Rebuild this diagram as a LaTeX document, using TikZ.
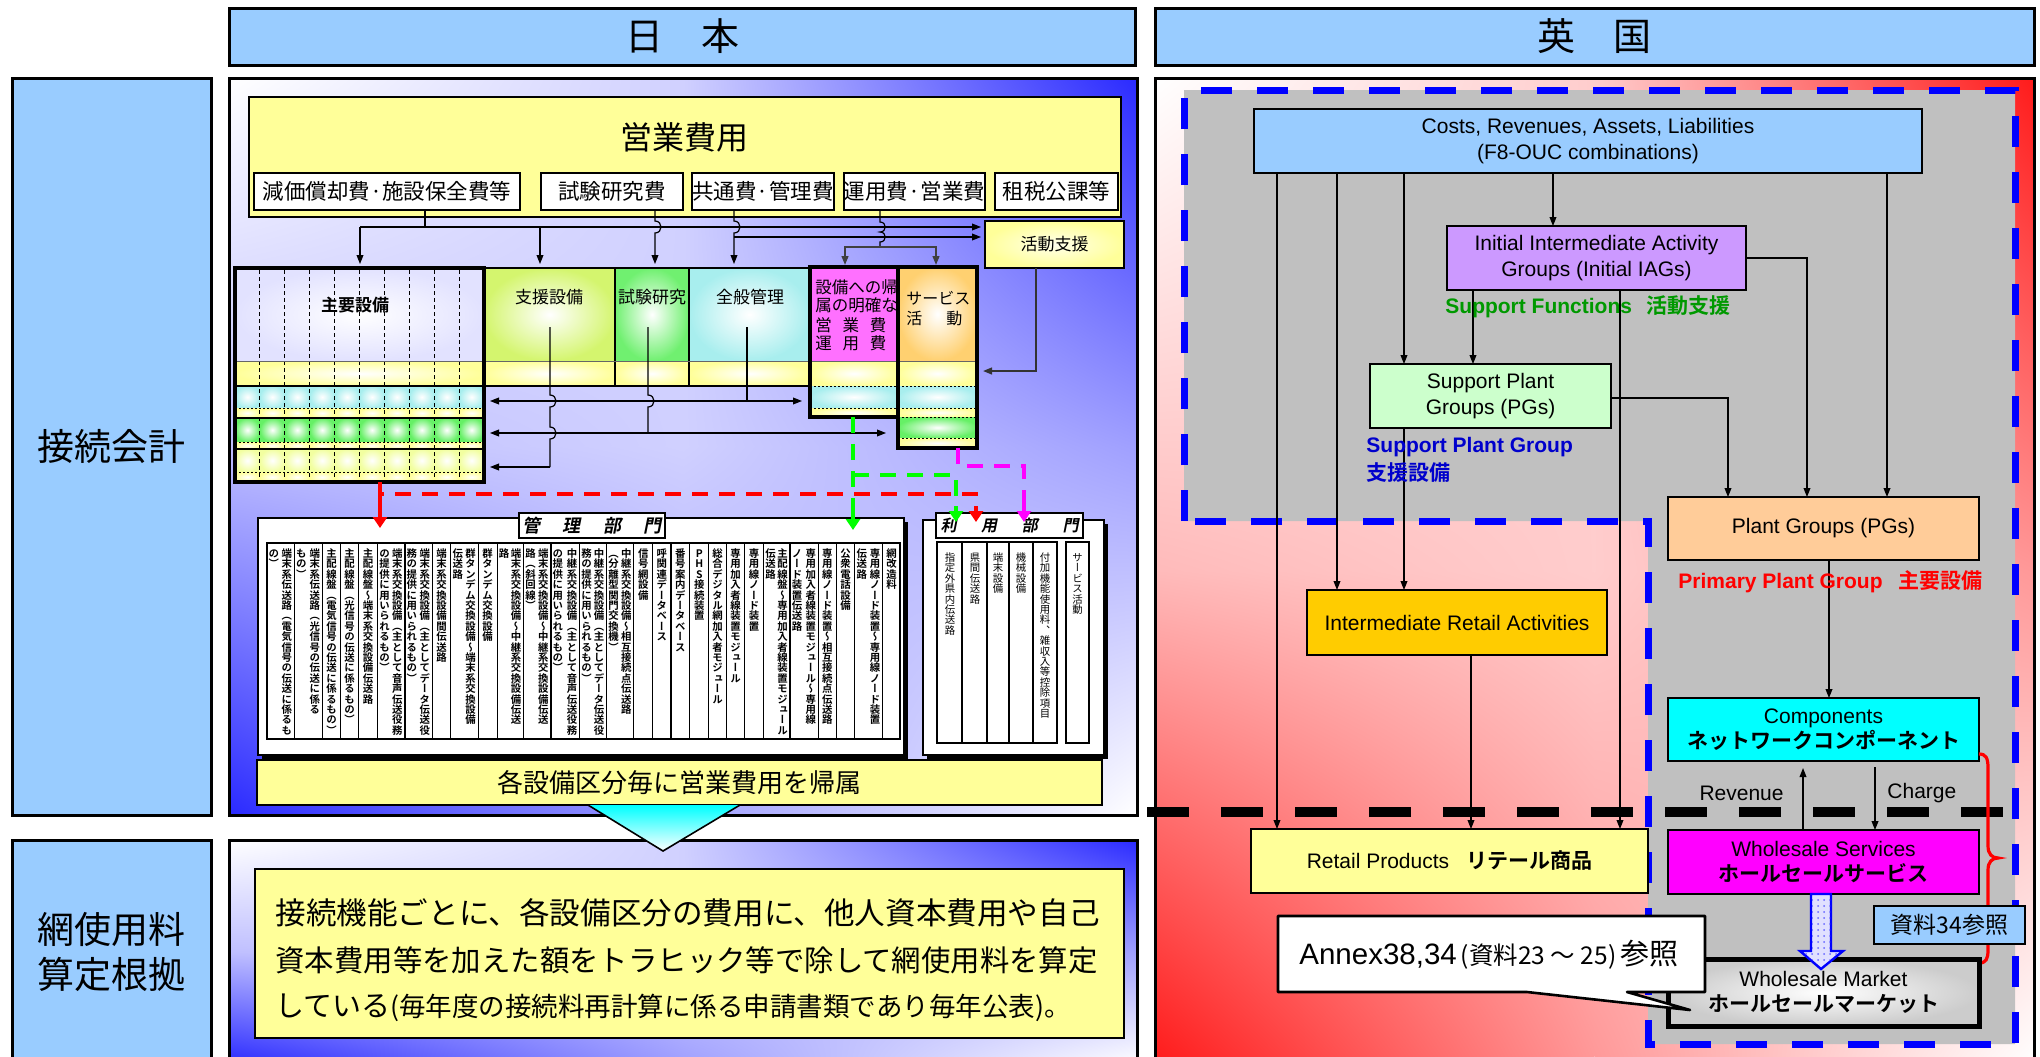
\documentclass[tikz,border=0pt]{standalone}
\usepackage{fontspec}
\setmainfont{Liberation Sans}
\newfontfamily\jp{Noto Sans CJK JP}[BoldFont={Noto Sans CJK JP Bold}]
\newfontfamily\jpv{Noto Sans CJK JP}[BoldFont={Noto Sans CJK JP Bold},RawFeature=+vert]
\newfontfamily\jpvb{Noto Sans CJK JP Bold}[RawFeature=+vert]
\newfontfamily\jpbi{Noto Sans CJK JP Bold}[FakeSlant=0.2]
\usetikzlibrary{arrows.meta,patterns,shadings}

\newcommand\fs[1]{\fontsize{\fpeval{#1/2}pt}{\fpeval{#1*0.61}pt}\selectfont}

\makeatletter
\def\vt@end{\vt@end}
\newcommand\vtxt[1]{\vbox{\offinterlineskip\expandafter\vt@loop#1\vt@end}}
\def\vt@loop#1{\ifx\vt@end#1\else\hbox to 1em{\vrule height .88em depth .12em width 0pt\hss#1\hss}\expandafter\vt@loop\fi}
\makeatother

\newcommand\bx[7]{\node[inner sep=0pt,outer sep=0pt,minimum width=\fpeval{(#4-#2)/2}pt,minimum height=\fpeval{(#5-#3)/2}pt,#6] (#1) at ({(#2+#4)/2},{(#3+#5)/2}) {#7};}

% four-quadrant corner gradient: white at upper left and lower right, colour #5 at the other corners
\newcommand\qshade[5]{%
  \pgfmathsetmacro\qxm{(#1+#3)/2}\pgfmathsetmacro\qym{(#2+#4)/2}%
  \shade[upper left=white,upper right=#5!22,lower left=#5!30,lower right=#5!22] (#1,#2) rectangle (\qxm,\qym);
  \shade[upper left=#5!22,upper right=#5,lower left=#5!22,lower right=#5!45] (\qxm,#2) rectangle (#3,\qym);
  \shade[upper left=#5!30,upper right=#5!22,lower left=#5,lower right=#5!45] (#1,\qym) rectangle (\qxm,#4);
  \shade[upper left=#5!22,upper right=#5!45,lower left=#5!45,lower right=white] (\qxm,\qym) rectangle (#3,#4);
}

\definecolor{hblue}{HTML}{99CCFF}
\definecolor{ylw}{HTML}{FFFF99}
\definecolor{ylwc}{HTML}{FFFFEC}
\definecolor{vio}{HTML}{CC99FF}
\definecolor{lgrn}{HTML}{CCFFCC}
\definecolor{peach}{HTML}{FFCC99}
\definecolor{gold}{HTML}{FFCC00}
\definecolor{gry}{HTML}{C0C0C0}
\definecolor{jblue}{HTML}{2A2AFF}
\definecolor{jred}{HTML}{FF1A1A}
\definecolor{lav}{HTML}{E2E2FF}
\definecolor{cyn}{HTML}{A8EEEE}
\definecolor{grn}{HTML}{66F066}
\definecolor{grn2}{HTML}{70F070}
\definecolor{lime}{HTML}{D4F56E}
\definecolor{ygr}{HTML}{F2FFA0}
\definecolor{org}{HTML}{FFD070}
\definecolor{mag}{HTML}{FF70FF}
\definecolor{sfgreen}{HTML}{009900}
\definecolor{spblue}{HTML}{0000CC}
\definecolor{pcyan}{RGB}{0,255,255}
\definecolor{pmag}{RGB}{255,0,255}
\definecolor{pgreen}{RGB}{0,255,0}
\definecolor{pred}{RGB}{255,0,0}

\begin{document}
\begin{tikzpicture}[x=0.5pt,y=-0.5pt,
  arr/.style={-{Triangle[length=4.5pt,width=3.4pt]},line width=0.6pt},
  darr/.style={{Triangle[length=4.5pt,width=3.4pt]}-{Triangle[length=4.5pt,width=3.4pt]},line width=0.6pt},
  hdr/.style={draw=black,line width=1.5pt,fill=hblue,align=center},
  subbox/.style={draw=black,line width=0.9pt,fill=white},
  rbox/.style={draw=black,line width=0.7pt,align=center},
  cdash/.style={line width=2pt,dash pattern=on 8pt off 5.5pt},
  ctip/.style={line width=2pt,-{Triangle[length=5.5pt,width=7pt]}},
  thinl/.style={line width=0.6pt},
  dotl/.style={line width=0.5pt,dash pattern=on 1pt off 1pt},
]
\useasboundingbox (0,0) rectangle (2040,1056);
\fill[white] (0,0) rectangle (2040,1056);

% ---------------- headers and row labels
\bx{hjp}{229}{8}{1135}{65}{hdr}{\jp\fs{38}日　本}
\bx{huk}{1155}{8}{2034}{65}{hdr}{\jp\fs{38}英　国}
\bx{lab1}{12}{78}{211}{815}{hdr}{\jp\fs{37}接続会計}
\bx{lab2}{12}{840}{211}{1064}{hdr,font={\jp\fs{37}}}{網使用料\\算定根拠}

% ---------------- left upper panel
\qshade{229}{78}{1137}{815}{jblue}
\draw[line width=1.5pt] (229,78) rectangle (1137,815);

\bx{eigyo}{249}{97}{1121}{217}{draw,line width=1.2pt,fill=ylw}{}
\node (eigyoT) at (684,137) {\jp\fs{32}営業費用};
\bx{c1}{254}{173}{520}{210}{subbox}{\jp\fs{21.5}減価償却費·施設保全費等}
\bx{c2}{541}{173}{683}{210}{subbox}{\jp\fs{21.5}試験研究費}
\bx{c3}{692}{173}{834}{210}{subbox}{\jp\fs{21.5}共通費·管理費}
\bx{c4}{844}{173}{985}{210}{subbox}{\jp\fs{21.5}運用費·営業費}
\bx{c5}{995}{173}{1118}{210}{subbox}{\jp\fs{21.5}租税公課等}
\bx{katsu}{985}{221}{1124}{268}{draw,line width=0.9pt,shade,inner color=ylwc,outer color=ylw}{\jp\fs{17}活動支援}

% block placeholders
\bx{shuyo}{235}{268}{484}{482}{}{}
\bx{shien}{484}{268}{615}{361}{}{}
\bx{shiken}{615}{268}{689}{361}{}{}
\bx{zenpan}{689}{268}{810}{361}{}{}
\bx{setsubi}{810}{267}{898}{417}{}{}
\bx{serv}{898}{267}{977}{448}{}{}

% top connectors
\draw[thinl] (425,0 |- c1.south) -- (425,227);
\draw[arr,shorten >=2pt] (360,227) -- (katsu.west |- 0,227);
\draw[arr,shorten >=2pt] (360,227) -- (360,0 |- shuyo.north);
\draw[arr,shorten >=2pt] (540,227) -- (540,0 |- shien.north);
\draw[arr,shorten >=2pt] (655,0 |- c2.south) -- (655,221) .. controls (663,221) and (663,233) .. (655,233) -- (655,0 |- shiken.north);
\draw[arr,shorten >=2pt] (734,0 |- c3.south) -- (734,221) .. controls (742,221) and (742,233) .. (734,233) -- (734,0 |- zenpan.north);
\draw[arr,shorten >=2pt] (734,237) -- (katsu.west |- 0,237);
\draw[thinl] (880,0 |- c4.south) -- (880,222) .. controls (887,222) and (887,232) .. (880,232) .. controls (887,232) and (887,242) .. (880,242) -- (880,247);
\draw[arr,line width=0.9pt,black!75,shorten >=1pt] (880,247) -- (845,247) -- (845,0 |- setsubi.north);
\draw[arr,line width=0.9pt,black!75,shorten >=1pt] (880,247) -- (936,247) -- (936,0 |- serv.north);

% ---------------- block fills
% 主要設備
\shade[inner color=white,outer color=lav] (235,268) rectangle (484,361);
\shade[inner color=white,outer color=ylw] (235,361) rectangle (484,386);
\foreach \k in {0,...,9}{
  \pgfmathsetmacro\xa{235+24.9*\k}
  \pgfmathsetmacro\xb{\xa+24.9}
  \shade[inner color=white,outer color=cyn] (\xa,386) rectangle (\xb,408);
  \shade[inner color=white,outer color=ylw] (\xa,408) rectangle (\xb,418);
  \shade[inner color=white,outer color=grn] (\xa,418) rectangle (\xb,442);
  \shade[inner color=white,outer color=ylw] (\xa,442) rectangle (\xb,449);
  \shade[inner color=white,outer color=ygr] (\xa,449) rectangle (\xb,472);
  \shade[inner color=white,outer color=ylw] (\xa,472) rectangle (\xb,482);
}
\foreach \k in {1,...,9}
  \draw[line width=0.5pt,dash pattern=on 2pt off 1.5pt] ({235+24.9*\k},270) -- ({235+24.9*\k},480);
\draw[line width=0.5pt,black!60] (235,361) -- (484,361);
\draw[line width=1pt] (235,386) -- (484,386) (235,418) -- (484,418) (235,449) -- (484,449);
\draw[dotl] (235,408) -- (484,408) (235,442) -- (484,442) (235,472) -- (484,472);

% 支援設備・試験研究・全般管理
\shade[inner color=white,outer color=lime] (484,268) rectangle (615,361);
\shade[inner color=white,outer color=grn2] (615,268) rectangle (689,361);
\shade[inner color=white,outer color=cyn] (689,268) rectangle (810,361);
\shade[inner color=white,outer color=ylw] (484,361) rectangle (615,386);
\shade[inner color=white,outer color=ylw] (615,361) rectangle (689,386);
\shade[inner color=white,outer color=ylw] (689,361) rectangle (810,386);
\draw[line width=0.8pt] (484,268) -- (810,268) (484,386) -- (810,386) (615,268) -- (615,386) (689,268) -- (689,386);
\draw[line width=0.5pt,black!60] (484,361) -- (810,361);
\node (shienT) at (549,297) {\jp\fs{17}支援設備};
\node (shikenT) at (652,297) {\jp\fs{17}試験研究};
\node (zenpanT) at (750,297) {\jp\fs{17}全般管理};

% 設備への帰属 ...
\fill[mag] (810,267) rectangle (898,361);
\shade[inner color=white,outer color=ylw] (810,361) rectangle (898,386);
\shade[inner color=white,outer color=cyn] (810,386) rectangle (898,408);
\shade[inner color=white,outer color=ylw] (810,408) rectangle (898,417);
% サービス活動
\shade[inner color=white,outer color=org] (898,267) rectangle (977,361);
\shade[inner color=white,outer color=ylw] (898,361) rectangle (977,386);
\shade[inner color=white,outer color=cyn] (898,386) rectangle (977,408);
\shade[inner color=white,outer color=ylw] (898,408) rectangle (977,417);
\shade[inner color=white,outer color=grn] (898,417) rectangle (977,438);
\shade[inner color=white,outer color=ylw] (898,438) rectangle (977,448);
\draw[line width=0.5pt,black!60] (810,361) -- (977,361);
\draw[dotl] (810,386) -- (977,386) (810,408) -- (977,408) (898,417) -- (977,417) (898,438) -- (977,438);

\begin{scope}
\clip (812,269) rectangle (896,359);
\node[anchor=west,inner sep=0] (st1) at (815,287) {\jp\fs{16.5}設備への帰};
\node[anchor=west,inner sep=0] (st2) at (815,305) {\jp\fs{16.5}属の明確な};
\node[anchor=west,inner sep=0] (st3) at (815,325) {\jp\fs{16.5}\hbox to 35.5pt{営\hfil 業\hfil 費}};
\node[anchor=west,inner sep=0] (st4) at (815,343) {\jp\fs{16.5}\hbox to 35.5pt{運\hfil 用\hfil 費}};
\end{scope}
\node[anchor=west,inner sep=0] (sv1) at (906,298) {\jp\fs{16}サービス};
\node[anchor=west,inner sep=0] (sv2) at (906,318) {\jp\fs{16}\hbox to 28pt{活\hfil 動}};

% internal connectors
\draw[thinl] (550,327) -- (550,395) .. controls (558,395) and (558,407) .. (550,407) -- (550,427) .. controls (558,427) and (558,439) .. (550,439) -- (550,467);
\draw[arr,shorten >=3pt] (550,467) -- (shuyo.east |- 0,467);
\draw[thinl] (648,327) -- (648,395) .. controls (656,395) and (656,407) .. (648,407) -- (648,433);
\draw[thinl] (747,327) -- (747,401);
\draw[darr,shorten <=3pt,shorten >=4pt] (shuyo.east |- 0,401) -- (setsubi.west |- 0,401);
\draw[darr,shorten <=3pt,shorten >=6pt] (shuyo.east |- 0,433) -- (serv.west |- 0,433);
\draw[arr,line width=0.9pt,black!80,shorten >=3pt] (1036,0 |- katsu.south) -- (1036,371) -- (serv.east |- 0,371);

% block borders
\draw[line width=2pt] (shuyo.north west) rectangle (shuyo.south east);
\draw[line width=2pt] (setsubi.north west) rectangle (setsubi.south east);
\draw[line width=2pt] (serv.north west) rectangle (serv.south east);
\node (shuyoT) at (355,305) {\jp\bfseries\fs{17}主要設備};

% ---------------- 管理部門
\fill[black] (262,522) rectangle (908,759);
\bx{kanri}{258}{518}{904}{755}{draw,fill=white,line width=0.8pt}{}
\bx{kanriT}{519}{513}{665}{538}{draw,fill=white,line width=0.8pt}{\jpbi\fs{18}\hbox to 70pt{管\hfil 理\hfil 部\hfil 門}}
\draw[line width=0.6pt] (267,543) rectangle (900,739);
\foreach \x in {294.2,322.4,340.5,358.6,377.5,404.9,432.2,450.8,478.1,497.1,523.6,550.9,579.5,606.5,633.8,652.8,670.9,689.8,708.8,726.4,744.5,763.5,790.0,818.2,836.3,854.8,882.6}
  \draw[line width=0.6pt] (\x,543) -- (\x,739);
\foreach \xl/\xr/\txt [count=\i] in {
  322.4/340.5/主配線盤（電気信号の伝送に係るもの）,
  340.5/358.6/主配線盤（光信号の伝送に係るもの）,
  358.6/377.5/主配線盤～端末系交換設備伝送路,
  432.2/450.8/端末系交換設備間伝送路,
  478.1/497.1/群タンデム交換設備,
  633.8/652.8/信号網設備,
  652.8/670.9/呼関連データベース,
  670.9/689.8/番号案内データベース,
  689.8/708.8/PHS接続装置,
  708.8/726.4/総合デジタル網加入者モジュール,
  726.4/744.5/専用加入者線装置モジュール,
  744.5/763.5/専用線ノード装置,
  818.2/836.3/専用線ノード装置～相互接続点伝送路,
  836.3/854.8/公衆電話設備,
  882.6/900.3/網改造料}
  \node[anchor=north,inner sep=0] (ks\i) at ({(\xl+\xr)/2},548) {\jpvb\fs{10.4}\vtxt{\txt}};
\foreach \xl/\xr/\ta/\tb [count=\i] in {
  266.8/294.2/端末系伝送路（電気信号の伝送に係るも/の）,
  294.2/322.4/端末系伝送路（光信号の伝送に係る/もの）,
  377.5/404.9/端末系交換設備（主として音声伝送役務/の提供に用いられるもの）,
  404.9/432.2/端末系交換設備（主としてデータ伝送役/務の提供に用いられるもの）,
  450.8/478.1/群タンデム交換設備～端末系交換設備/伝送路,
  497.1/523.6/端末系交換設備～中継系交換設備伝送/路,
  523.6/550.9/端末系交換設備～中継系交換設備伝送/路（斜回線）,
  550.9/579.5/中継系交換設備（主として音声伝送役務/の提供に用いられるもの）,
  579.5/606.5/中継系交換設備（主としてデータ伝送役/務の提供に用いられるもの）,
  606.5/633.8/中継系交換設備～相互接続点伝送路/（分離型関門交換機）,
  763.5/790.0/主配線盤～専用加入者線装置モジュール/伝送路,
  790.0/818.2/専用加入者線装置モジュール～専用線/ノード装置伝送路,
  854.8/882.6/専用線ノード装置～専用線ノード装置/伝送路}
  {
  \node[anchor=north,inner sep=0] (kda\i) at ({\xr-7.5},548) {\jpvb\fs{10.4}\vtxt{\ta}};
  \node[anchor=north,inner sep=0] (kdb\i) at ({\xl+7},548) {\jpvb\fs{10.4}\vtxt{\tb}};
  }

% ---------------- 利用部門
\fill[black] (927,524) rectangle (1108,759);
\bx{riyo}{923}{520}{1104}{755}{draw,fill=white,line width=0.8pt}{}
\bx{riyoT}{936}{513}{1083}{538}{draw,fill=white,line width=0.8pt}{\jpbi\fs{16}\hbox to 69pt{利\hfil 用\hfil 部\hfil 門}}
\draw[line width=0.6pt] (937,542) rectangle (1057,743);
\foreach \x in {962,987,1009,1033} \draw[line width=0.6pt] (\x,542) -- (\x,743);
\draw[line width=0.6pt] (1066,542) rectangle (1089,743);
\foreach \xc/\txt [count=\i] in {950/指定外県内伝送路,975/県間伝送路,998/端末設備,1021/機械設備,1045/付加機能使用料、雑収入等控除項目,1077.5/サービス活動}
  \node[anchor=north,inner sep=0] (rs\i) at (\xc,552) {\jpv\fs{10.4}\vtxt{\txt}};

% coloured dashed arrows (dashed shafts, solid tips)
\draw[pred,cdash] (380,0 |- shuyo.south) -- (380,494) -- (976,494) -- (976,510);
\draw[pred,ctip] (976,506) -- (976,522);
\draw[pred,cdash] (380,494) -- (380,514);
\draw[pred,ctip] (380,510) -- (380,528);
\draw[pgreen,cdash] (853,0 |- setsubi.south) -- (853,516);
\draw[pgreen,ctip] (853,512) -- (853,530);
\draw[pgreen,cdash] (853,475) -- (956,475) -- (956,510);
\draw[pgreen,ctip] (956,506) -- (956,522);
\draw[pmag,cdash] (958,0 |- serv.south) -- (958,466) -- (1024,466) -- (1024,510);
\draw[pmag,ctip] (1024,506) -- (1024,522);

\bx{kakuset}{257}{760}{1102}{805}{draw,fill=ylw,line width=0.9pt}{\jp\fs{26}各設備区分毎に営業費用を帰属}

% ---------------- left lower panel
\qshade{229}{840}{1137}{1064}{jblue}
\draw[line width=1.5pt] (229,840) rectangle (1137,1064);
\bx{ryokin}{255}{869}{1124}{1038}{draw,fill=ylw,line width=1pt}{}
\node[anchor=west,inner sep=0] (rt1) at (275,913) {\jp\fs{30.6}接続機能ごとに、各設備区分の費用に、他人資本費用や自己};
\node[anchor=west,inner sep=0] (rt2) at (275,960) {\jp\fs{29.4}資本費用等を加えた額をトラヒック等で除して網使用料を算定};
\node[anchor=west,inner sep=0] (rt3) at (275,1008) {\jp\fs{29}している{\fs{26.5}(毎年度の接続料再計算に係る申請書類であり毎年公表)。}};

\shade[top color=pcyan,bottom color=white] (588,805) -- (740,805) -- (663,851) -- cycle;
\draw[line width=0.8pt] (588,805) -- (663,851) -- (740,805);

% ---------------- right panel
\qshade{1155}{78}{2034}{1064}{jred}
\draw[line width=1.5pt] (1155,78) rectangle (2034,1064);
\fill[gry] (1184,90) -- (2015,90) -- (2015,1044) -- (1648,1044) -- (1648,521) -- (1184,521) -- cycle;
\draw[line width=5pt,dash pattern=on 21pt off 16pt] (1147,812) -- (2012,812);
\draw[blue,line width=3.5pt,dash pattern=on 15.5pt off 12.5pt] (1184,521) -- (1184,90) -- (2015,90) -- (2015,1044) -- (1648,1044) -- (1648,521) -- cycle;

\bx{cral}{1254}{109}{1922}{173}{rbox,fill=hblue,font=\fs{21}}{Costs, Revenues, Assets, Liabilities\\(F8-OUC combinations)}
\bx{iiag}{1447}{226}{1746}{290}{rbox,fill=vio,font=\fs{21}}{Initial Intermediate Activity\\Groups (Initial IAGs)}
\bx{spg}{1370}{364}{1611}{428}{rbox,fill=lgrn,font=\fs{21}}{Support Plant\\Groups (PGs)}
\bx{pg}{1668}{497}{1979}{560}{rbox,fill=peach,font=\fs{21}}{Plant Groups (PGs)}
\bx{ira}{1307}{590}{1607}{655}{rbox,fill=gold,font=\fs{21}}{Intermediate Retail Activities}
\bx{comp}{1668}{698}{1979}{761}{rbox,fill=pcyan,font=\fs{21}}{Components\\{\jp\bfseries ネットワークコンポーネント}}
\bx{ws}{1668}{830}{1979}{894}{rbox,fill=pmag,font=\fs{21}}{Wholesale Services\\{\jp\bfseries ホールセールサービス}}
\bx{retail}{1251}{829}{1648}{893}{rbox,fill=ylw,font=\fs{21}}{Retail Products\hspace{8.5pt}{\jp\bfseries リテール商品}}

% right connectors
\draw[arr] (1277,0 |- cral.south) -- (1277,0 |- retail.north);
\draw[arr] (1337,0 |- cral.south) -- (1337,0 |- ira.north);
\draw[arr] (1404,0 |- cral.south) -- (1404,0 |- spg.north);
\draw[arr] (1553,0 |- cral.south) -- (1553,0 |- iiag.north);
\draw[arr] (1887,0 |- cral.south) -- (1887,0 |- pg.north);
\draw[arr] (iiag.east |- 0,258) -- (1807,258) -- (1807,0 |- pg.north);
\draw[arr] (1473,0 |- iiag.south) -- (1473,0 |- spg.north);
\draw[arr] (1620,0 |- iiag.south) -- (1620,0 |- retail.north);
\draw[arr] (spg.east |- 0,398) -- (1728,398) -- (1728,0 |- pg.north);
\draw[arr] (1404,0 |- spg.south) -- (1404,0 |- ira.north);
\draw[arr] (1829,0 |- pg.south) -- (1829,0 |- comp.north);
\draw[arr] (1471,0 |- ira.south) -- (1471,0 |- retail.north);
\draw[arr,shorten >=3.5pt] (1803,0 |- ws.north) -- (1803,0 |- comp.south);
\draw[arr,shorten <=3pt] (1875,0 |- comp.south) -- (1875,0 |- ws.north);

\node[anchor=west,text=sfgreen,inner sep=0] (sflab) at (1445,307) {\bfseries\fs{21}Support Functions\hspace{7pt}{\jp\bfseries 活動支援}};
\node[anchor=west,text=spblue,inner sep=0] (splab1) at (1366,447) {\bfseries\fs{21}Support Plant Group};
\node[anchor=west,text=spblue,inner sep=0] (splab2) at (1366,473) {\jp\bfseries\fs{21}支援設備};
\node[anchor=west,text=pred,inner sep=0] (pplab) at (1678,582) {\bfseries\fs{21}Primary Plant Group\hspace{8pt}{\jp\bfseries 主要設備}};
\node[anchor=east,inner sep=0] (revlab) at (1784,793) {\fs{21}Revenue};
\node[anchor=west,inner sep=0] (chglab) at (1887,793) {\fs{21}Charge};

% brace
\draw[pred,line width=1.6pt] (1979,754) .. controls (1986,754) and (1988,758) .. (1988,768) -- (1988,846) .. controls (1988,854) and (1992,858) .. (1998,858) .. controls (1992,858) and (1988,862) .. (1988,870) -- (1988,950) .. controls (1988,959) and (1986,963) .. (1979,963);

\bx{wm}{1668}{959}{1979}{1026}{draw,line width=2.5pt,shade,inner color=white,outer color=gray!40,align=center,font=\fs{21}}{Wholesale Market\\{\jp\bfseries ホールセールマーケット}}
\bx{ref34}{1874}{906}{2025}{944}{rbox,fill=hblue}{\jp\fs{23}資料34参照}

% hollow arrow ws -> wm
\filldraw[draw=blue,line width=1.2pt,fill=blue!12] (1811,0 |- ws.south) -- (1831,0 |- ws.south) -- (1831,951) -- (1843,951) -- (1821,969) -- (1800,951) -- (1811,951) -- cycle;
\fill[pattern=dots,pattern color=blue!60] (1812,896) -- (1830,896) -- (1830,952) -- (1840,952) -- (1821,967) -- (1803,952) -- (1812,952) -- cycle;

% callout
\draw[line width=1.3pt,fill=white,line join=round] (1278,916) -- (1705,916) -- (1705,992) -- (1627,992) -- (1690,1010) -- (1527,992) -- (1278,992) -- cycle;
\node[anchor=west,inner sep=0] (annex) at (1299,955) {\fs{29.5}Annex38,34{\jp\fs{24.5}\,(資料23 ～ 25)\,}{\jp\fs{29}参照}};

\end{tikzpicture}
\end{document}
